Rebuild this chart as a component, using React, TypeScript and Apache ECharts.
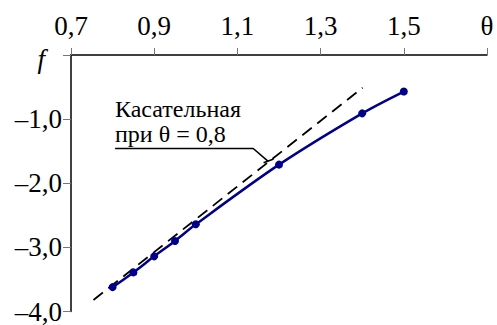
import React, { useEffect, useRef } from "react";
import * as echarts from "echarts";

const thetaPoints = [0.8, 0.85, 0.9, 0.95, 1.0, 1.2, 1.4, 1.5];
const fValues = [-3.62, -3.39, -3.14, -2.9, -2.64, -1.71, -0.91, -0.57];
const tangentTheta = [0.754, 1.401];
const tangentF = [-3.82, -0.51];
const xTicks = [0.7, 0.9, 1.1, 1.3, 1.5, 1.7];
const yTicks = [-4, -3, -2, -1, 0];
const leaderTheta = [0.806, 1.138, 1.174];
const leaderF = [-1.458, -1.458, -1.66];
const barTheta = [1.163, 1.187];
const barF = [-1.68, -1.62];
const annotationLines = ["Касательная", "при θ = 0,8"];

const FONT = "'Times New Roman', 'Liberation Serif', 'DejaVu Serif', serif";

export default function App() {
  const ref = useRef<HTMLDivElement>(null);
  useEffect(() => {
    if (!ref.current) return;
    const chart = echarts.init(ref.current, undefined, { renderer: "svg" });
    const fmt = (v: number) => Math.abs(v).toFixed(1).replace(".", ",");
    chart.setOption({
      animation: false,
      backgroundColor: "#ffffff",
      textStyle: { fontFamily: FONT },
      grid: { left: 71, right: 10, top: 55, bottom: 9 },
      xAxis: {
        type: "value",
        position: "top",
        min: 0.7,
        max: 1.7,
        splitLine: { show: false },
        axisLine: { lineStyle: { color: "#000", width: 1.5 } },
        axisTick: {
          show: true,
          length: 7,
          customValues: xTicks,
          lineStyle: { color: "#777", width: 1 },
        },
        axisLabel: {
          customValues: xTicks,
          margin: 16,
          color: "#000",
          fontFamily: FONT,
          fontSize: 27,
          formatter: (v: number) => (Math.abs(v - 1.7) < 1e-6 ? "θ" : fmt(v)),
        },
      },
      yAxis: {
        type: "value",
        min: -4,
        max: 0,
        interval: 1,
        splitLine: { show: false },
        axisLine: { lineStyle: { color: "#000", width: 1.5 } },
        axisTick: {
          show: true,
          length: 8,
          customValues: yTicks,
          lineStyle: { color: "#777", width: 1 },
        },
        axisLabel: {
          customValues: yTicks,
          margin: 9,
          color: "#000",
          fontFamily: FONT,
          fontSize: 27,
          formatter: (v: number) =>
            Math.abs(v) < 1e-6 ? "{f|f}" : "\u2013" + fmt(v),
          rich: {
            f: {
              fontStyle: "italic",
              fontFamily: FONT,
              fontSize: 27,
              color: "#000",
              padding: [8, 17, 0, 0],
            },
          },
        },
      },
      series: [
        {
          type: "line",
          name: "tangent",
          data: tangentTheta.map((t, i) => [t, tangentF[i]]),
          symbol: "none",
          lineStyle: { color: "#000", width: 1.8, type: [12, 7] },
          z: 1,
        },
        {
          type: "line",
          name: "f",
          data: thetaPoints.map((t, i) => [t, fValues[i]]),
          smooth: 0.3,
          symbol: "circle",
          symbolSize: 8,
          itemStyle: { color: "#00008b" },
          lineStyle: { color: "#00008b", width: 2.5 },
          z: 3,
        },
        {
          type: "line",
          name: "leader",
          data: leaderTheta.map((t, i) => [t, leaderF[i]]),
          symbol: "none",
          lineStyle: { color: "#000", width: 1.6 },
          z: 2,
        },
        {
          type: "line",
          name: "bar",
          data: barTheta.map((t, i) => [t, barF[i]]),
          symbol: "none",
          lineStyle: { color: "#000", width: 1.6 },
          z: 2,
        },
      ],
      graphic: [
        {
          type: "text",
          left: 115,
          top: 97,
          style: {
            text: annotationLines.join("\n"),
            fill: "#000",
            fontFamily: FONT,
            fontSize: 24,
            lineHeight: 24.5,
          },
        },
      ],
    });
    return () => chart.dispose();
  }, []);
  return (
    <div
      ref={ref}
      style={{ position: "fixed", left: 0, top: 0, width: 497, height: 325 }}
    />
  );
}
